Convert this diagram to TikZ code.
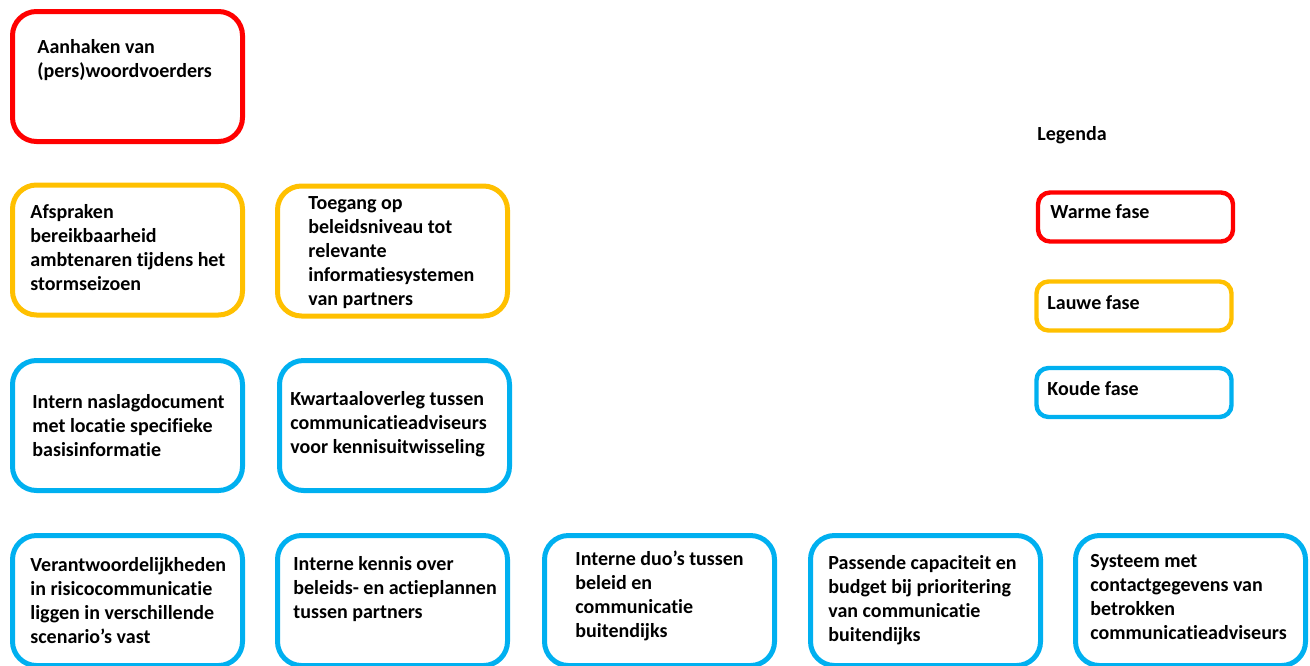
\documentclass[tikz,border=0pt]{standalone}
\usepackage{fontspec}
\setmainfont[Ligatures=NoCommon]{Carlito}
\definecolor{warm}{RGB}{255,0,0}
\definecolor{lauw}{RGB}{255,192,0}
\definecolor{koud}{RGB}{0,176,240}

\begin{document}
\begin{tikzpicture}[x=0.5pt,y=-0.5pt,
    fase/.style={draw=#1,line width=2.5pt,rounded corners=12pt,minimum width=115pt,minimum height=65pt},
    legfase/.style={draw=#1,line width=2.2pt,rounded corners=6pt,minimum width=97.5pt,minimum height=24.5pt},
    txt/.style={anchor=west,align=left,inner sep=0pt,font=\bfseries\fontsize{10}{12}\selectfont}]
    \useasboundingbox (0,0) rectangle (1310,665);

    % warme fase
    \node[fase=warm] (pers) at (127.5,76.5) {};
    \node[txt] (perst) at (37,60.5) {Aanhaken van\\(pers)woordvoerders};

    % lauwe fase
    \node[fase=lauw] (afspr) at (127.5,250) {};
    \node[fase=lauw] (toeg) at (392.5,251) {};
    \node[txt] (afsprt) at (30,248) {Afspraken\\bereikbaarheid\\ambtenaren tijdens het\\stormseizoen};
    \node[txt] (toegt) at (308,252.5) {Toegang op\\beleidsniveau tot\\relevante\\informatiesystemen\\van partners};

    % koude fase
    \node[fase=koud] (nasl) at (127.5,425.5) {};
    \node[fase=koud] (kwart) at (394.5,425.5) {};
    \node[txt] (naslt) at (32,426) {Intern naslagdocument\\met locatie specifieke\\basisinformatie};
    \node[txt] (kwartt) at (290,424) {Kwartaaloverleg tussen\\communicatieadviseurs\\voor kennisuitwisseling};

    \node[fase=koud] (verantw) at (127.5,600.5) {};
    \node[fase=koud] (kennis) at (392.5,600.5) {};
    \node[fase=koud] (duos) at (659.5,600.5) {};
    \node[fase=koud] (capac) at (925.5,600.5) {};
    \node[fase=koud] (syst) at (1190.5,600.5) {};
    \node[txt] (verantwt) at (30,601) {Verantwoordelijkheden\\in risicocommunicatie\\liggen in verschillende\\scenario’s vast};
    \node[txt] (kennist) at (293,589) {Interne kennis over\\beleids- en actieplannen\\tussen partners};
    \node[txt] (duost) at (575,596) {Interne duo’s tussen\\beleid en\\communicatie\\buitendijks};
    \node[txt] (capact) at (828,600.5) {Passende capaciteit en\\budget bij prioritering\\van communicatie\\buitendijks};
    \node[txt] (systt) at (1090,597) {Systeem met\\contactgegevens van\\betrokken\\communicatieadviseurs};

    % legenda
    \node[txt] (leg) at (1037,135) {Legenda};
    \node[legfase=warm] (lwarm) at (1135.5,217) {};
    \node[legfase=lauw] (llauw) at (1134,306) {};
    \node[legfase=koud] (lkoud) at (1134,392.5) {};
    \node[txt] (lwarmt) at (1050,212) {Warme fase};
    \node[txt] (llauwt) at (1047,303) {Lauwe fase};
    \node[txt] (lkoudt) at (1047,389) {Koude fase};
\end{tikzpicture}
\end{document}
